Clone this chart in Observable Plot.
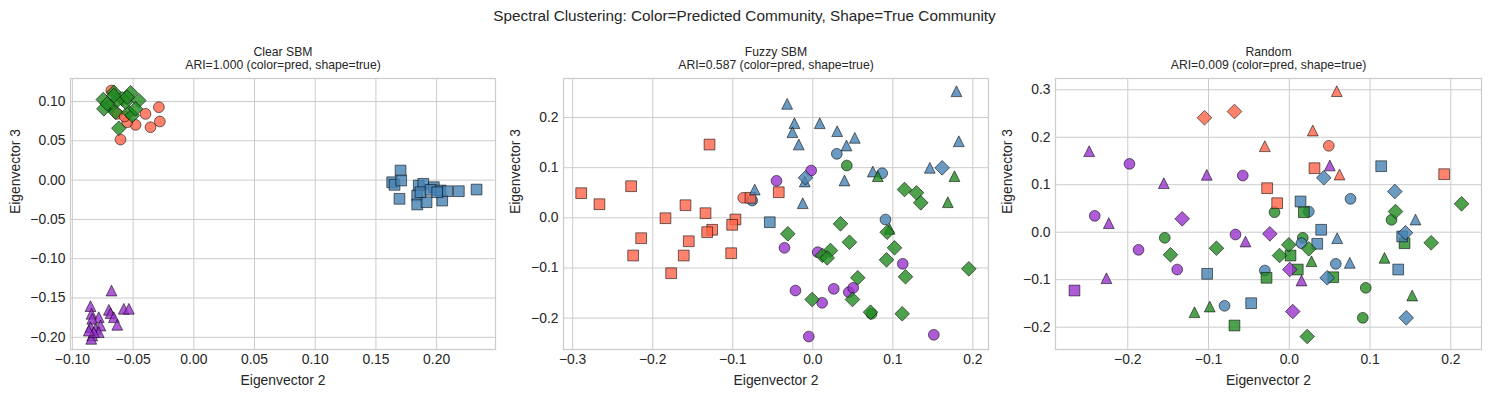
<!DOCTYPE html>
<html><head><meta charset="utf-8">
<script src="https://cdn.jsdelivr.net/npm/d3@7"></script>
<script src="https://cdn.jsdelivr.net/npm/@observablehq/plot@0.6"></script>
<style>
html,body{margin:0;padding:0;background:#fff;}
#fig{position:relative;width:1489px;height:397px;overflow:hidden;font-family:"Liberation Sans",Arial,sans-serif;color:#262626;background:#fff;}
#suptitle{position:absolute;left:0;top:8px;width:1489px;text-align:center;font-size:15.3px;line-height:1;}
.panel{position:absolute;top:0;}
</style></head><body>
<div id="fig"><div id="suptitle">Spectral Clustering: Color=Predicted Community, Shape=True Community</div></div>
<script>
// ---- categories ----
const panelTitles = ["Clear SBM", "Fuzzy SBM", "Random"];
const ariValues = ["1.000", "0.587", "0.009"];
const predColors = {R: "#FF6347", B: "#4682B4", G: "#228B22", P: "#9932CC"};
const trueShapes = ["o", "s", "^", "D"];

// ---- tick labels ----
const clearXTicks = [-0.10, -0.05, 0.00, 0.05, 0.10, 0.15, 0.20];
const clearYTicks = [-0.20, -0.15, -0.10, -0.05, 0.00, 0.05, 0.10];
const fuzzyXTicks = [-0.3, -0.2, -0.1, 0.0, 0.1, 0.2];
const fuzzyYTicks = [-0.2, -0.1, 0.0, 0.1, 0.2];
const randomXTicks = [-0.2, -0.1, 0.0, 0.1, 0.2];
const randomYTicks = [-0.2, -0.1, 0.0, 0.1, 0.2, 0.3];

// ---- points: [eigenvector2, eigenvector3, predicted, true] ----
const clearPts = [
  [-0.068,0.114,"R","o"],[-0.0288,0.0928,"R","o"],[-0.0398,0.0843,"R","o"],[-0.028,0.0746,"R","o"],
  [-0.0357,0.0673,"R","o"],[-0.048,0.0703,"R","o"],[-0.0549,0.0737,"R","o"],[-0.0604,0.0516,"R","o"],
  [-0.063,0.0843,"R","o"],[-0.057,0.081,"R","o"],
  [0.1703,0.0122,"B","s"],[0.1634,-0.0027,"B","s"],[0.1653,-0.006,"B","s"],[0.1708,-0.0005,"B","s"],
  [0.1694,-0.0238,"B","s"],[0.1853,-0.0069,"B","s"],[0.189,-0.0047,"B","s"],[0.184,-0.0196,"B","s"],
  [0.184,-0.031,"B","s"],[0.1917,-0.0281,"B","s"],[0.1977,-0.009,"B","s"],[0.2032,-0.0132,"B","s"],
  [0.2046,-0.026,"B","s"],[0.2087,-0.0141,"B","s"],[0.2183,-0.0141,"B","s"],[0.2329,-0.012,"B","s"],
  [0.1867,-0.0154,"B","s"],[0.195,-0.0123,"B","s"],[0.2005,-0.0154,"B","s"],
  [-0.0678,-0.1405,"P","^"],[-0.0851,-0.1603,"P","^"],[-0.0843,-0.1701,"P","^"],[-0.0783,-0.1744,"P","^"],
  [-0.07,-0.165,"P","^"],[-0.0686,-0.1693,"P","^"],[-0.0659,-0.1744,"P","^"],[-0.0577,-0.1637,"P","^"],
  [-0.0535,-0.1637,"P","^"],[-0.0631,-0.1841,"P","^"],[-0.0837,-0.1765,"P","^"],[-0.0769,-0.185,"P","^"],
  [-0.0851,-0.1871,"P","^"],[-0.081,-0.1892,"P","^"],[-0.0783,-0.1935,"P","^"],[-0.0837,-0.1977,"P","^"],
  [-0.0845,-0.2019,"P","^"],[-0.0824,-0.1935,"P","^"],[-0.0865,-0.1914,"P","^"],
  [-0.0746,0.1025,"G","D"],[-0.0659,0.1118,"G","D"],[-0.0521,0.1111,"G","D"],[-0.0453,0.1013,"G","D"],
  [-0.059,0.1034,"G","D"],[-0.0686,0.094,"G","D"],[-0.0741,0.0907,"G","D"],[-0.0645,0.0864,"G","D"],
  [-0.0535,0.0864,"G","D"],[-0.0507,0.0822,"G","D"],[-0.0618,0.066,"G","D"],[-0.0563,0.0991,"G","D"],
  [-0.048,0.0907,"G","D"],[-0.0631,0.1013,"G","D"],[-0.0713,0.0971,"G","D"],[-0.0659,0.1076,"G","D"],
  [-0.0549,0.1055,"G","D"]
];

const fuzzyPts = [
  [-0.0869,0.0399,"R","o"],
  [0.03,0.1276,"B","o"],[0.0867,0.0889,"B","o"],[0.0908,-0.0034,"B","o"],[-0.0757,0.0345,"B","o"],
  [0.0425,0.1043,"G","o"],[0.0733,-0.1914,"G","o"],
  [-0.0453,0.0738,"P","o"],[-0.002,0.0943,"P","o"],[-0.0354,-0.0598,"P","o"],[0.0062,-0.0686,"P","o"],
  [0.1124,-0.0917,"P","o"],[-0.0216,-0.145,"P","o"],[0.0262,-0.1416,"P","o"],[0.045,-0.1483,"P","o"],
  [0.0505,-0.1396,"P","o"],[0.0117,-0.1695,"P","o"],[-0.005,-0.2367,"P","o"],[0.1512,-0.2333,"P","o"],
  [-0.129,0.1461,"R","s"],[-0.2893,0.0491,"R","s"],[-0.2665,0.0271,"R","s"],[-0.2269,0.063,"R","s"],
  [-0.184,-0.0008,"R","s"],[-0.159,0.0251,"R","s"],[-0.134,0.0092,"R","s"],[-0.0966,-0.0034,"R","s"],
  [-0.1007,-0.014,"R","s"],[-0.1257,-0.0239,"R","s"],[-0.1319,-0.0287,"R","s"],[-0.2144,-0.0407,"R","s"],
  [-0.1549,-0.0467,"R","s"],[-0.2244,-0.0752,"R","s"],[-0.1612,-0.0752,"R","s"],[-0.1019,-0.0706,"R","s"],
  [-0.1769,-0.1105,"R","s"],[-0.0778,0.0399,"R","s"],[-0.0425,0.051,"R","s"],
  [-0.0537,-0.0088,"B","s"],
  [-0.032,0.2273,"B","^"],[0.1795,0.2524,"B","^"],[-0.0229,0.1886,"B","^"],[-0.0254,0.1707,"B","^"],
  [0.0087,0.1886,"B","^"],[0.0305,0.1727,"B","^"],[0.0525,0.1595,"B","^"],[0.0421,0.1442,"B","^"],
  [-0.0175,0.1462,"B","^"],[0.1824,0.1527,"B","^"],[0.075,0.0923,"B","^"],[0.0396,0.0744,"B","^"],
  [-0.0125,0.0291,"B","^"],[0.1462,0.0997,"B","^"],[-0.01,0.0724,"B","^"],[-0.0725,0.0564,"B","^"],
  [0.0812,0.083,"G","^"],[0.177,0.083,"G","^"],[0.1687,0.0311,"G","^"],[0.0958,-0.022,"G","^"],
  [0.1616,0.0997,"B","D"],[-0.0091,0.0798,"B","D"],
  [0.1146,0.0564,"G","D"],[0.1295,0.0498,"G","D"],[0.1349,0.0299,"G","D"],[0.0346,-0.012,"G","D"],
  [-0.0312,-0.0319,"G","D"],[0.0458,-0.0487,"G","D"],[0.0221,-0.0652,"G","D"],[0.012,-0.075,"G","D"],
  [0.018,-0.08,"G","D"],[0.0929,-0.0287,"G","D"],[0.1021,-0.0598,"G","D"],[0.0921,-0.0838,"G","D"],
  [0.1158,-0.1176,"G","D"],[0.1949,-0.1017,"G","D"],[0.0562,-0.1196,"G","D"],[-0.0008,-0.1629,"G","D"],
  [0.0496,-0.1629,"G","D"],[0.0721,-0.1882,"G","D"],[0.1117,-0.1914,"G","D"]
];

const randomPts = [
  [0.0489,0.182,"R","o"],
  [-0.1979,0.144,"P","o"],[-0.0576,0.1194,"P","o"],[-0.2409,0.0345,"P","o"],[-0.1867,-0.0371,"P","o"],
  [-0.0666,-0.0048,"P","o"],[-0.1388,-0.0786,"P","o"],
  [-0.1542,-0.0118,"G","o"],[-0.0183,0.0421,"G","o"],[0.1266,0.0261,"G","o"],[0.0167,-0.0118,"G","o"],
  [0.0947,-0.1171,"G","o"],[0.091,-0.1803,"G","o"],
  [-0.0802,-0.155,"B","o"],[-0.0303,-0.0807,"B","o"],[0.0758,0.0703,"B","o"],[0.0241,0.0436,"B","o"],
  [0.0151,-0.0231,"B","o"],[0.0576,-0.0666,"B","o"],
  [-0.0274,0.0927,"R","s"],[0.0312,0.1348,"R","s"],[0.1918,0.1222,"R","s"],[-0.015,0.0611,"R","s"],
  [-0.266,-0.1228,"P","s"],
  [-0.0679,-0.1965,"G","s"],[-0.0282,-0.096,"G","s"],[0.018,0.0421,"G","s"],[0.0015,-0.0491,"G","s"],
  [0.0105,-0.0786,"G","s"],[0.0544,-0.0948,"G","s"],[0.1427,-0.0232,"G","s"],
  [-0.1017,-0.0876,"B","s"],[-0.0472,-0.1495,"B","s"],[0.1138,0.139,"B","s"],[0.0139,0.0647,"B","s"],
  [0.0395,0.0051,"B","s"],[0.0346,-0.0244,"B","s"],[0.1398,-0.009,"B","s"],[0.1349,-0.0786,"B","s"],
  [-0.0303,0.1811,"R","^"],[0.0588,0.297,"R","^"],[0.0291,0.2142,"R","^"],[0.0622,0.1215,"R","^"],
  [-0.2478,0.1706,"P","^"],[-0.1554,0.1032,"P","^"],[-0.1022,0.1209,"P","^"],[-0.2235,0.019,"P","^"],
  [-0.0542,-0.0196,"P","^"],[-0.2264,-0.0969,"P","^"],[0.0502,0.1405,"P","^"],[0.0151,-0.1017,"P","^"],
  [-0.1174,-0.1685,"G","^"],[-0.0985,-0.1565,"G","^"],[0.0275,-0.0611,"G","^"],[0.1522,-0.1333,"G","^"],
  [0.1179,-0.054,"G","^"],
  [0.1563,0.0267,"B","^"],[0.0593,-0.0126,"B","^"],[0.0749,-0.0645,"B","^"],
  [-0.105,0.241,"R","D"],[-0.0679,0.2542,"R","D"],
  [-0.1326,0.0282,"P","D"],[-0.0241,-0.0034,"P","D"],[0.0006,-0.0786,"P","D"],[0.0043,-0.167,"P","D"],
  [-0.1471,-0.0476,"G","D"],[-0.0902,-0.0337,"G","D"],[0.2133,0.0598,"G","D"],[0.1315,0.0436,"G","D"],
  [-0.0006,-0.0265,"G","D"],[0.0241,-0.035,"G","D"],[-0.0121,-0.0491,"G","D"],[0.1757,-0.0223,"G","D"],
  [0.0222,-0.2197,"G","D"],
  [0.0427,0.1146,"B","D"],[0.1307,0.0857,"B","D"],[0.0469,-0.096,"B","D"],[0.1448,-0.1803,"B","D"],
  [0.1439,-0.0013,"B","D"]
];

// ---- matplotlib-like marker shapes (size = markersize^2) ----
const shapeSymbols = {
  "o": {draw(c, s) { const m = Math.sqrt(s) / 2; c.moveTo(m, 0); c.arc(0, 0, m, 0, 2 * Math.PI); c.closePath(); }},
  "s": {draw(c, s) { const m = Math.sqrt(s) / 2; c.rect(-m, -m, 2 * m, 2 * m); }},
  "^": {draw(c, s) { const m = Math.sqrt(s) / 2; c.moveTo(0, -m); c.lineTo(m, m); c.lineTo(-m, m); c.closePath(); }},
  "D": {draw(c, s) { const h = Math.sqrt(s) * 0.68; c.moveTo(0, -h); c.lineTo(h, 0); c.lineTo(0, h); c.lineTo(-h, 0); c.closePath(); }}
};
const markerPx = 10.76;
const markerR = markerPx / Math.sqrt(Math.PI);

const FONT = '"Liberation Sans", Arial, sans-serif';
const GRID = "#cccccc";

function drawPanel(i, rows, cfg) {
  const data = rows.map(([x, y, p, t]) => ({x, y, p, t}));
  const dots = trueShapes.map(s => Plot.dot(data.filter(d => d.t === s), {
    x: "x", y: "y", symbol: shapeSymbols[s], r: markerR,
    fill: d => predColors[d.p], fillOpacity: 0.8,
    stroke: "#000", strokeOpacity: 0.8, strokeWidth: 0.7
  }));
  const svg = Plot.plot({
    width: cfg.width, height: 397,
    marginLeft: cfg.ml, marginRight: cfg.width - cfg.ml - cfg.pw, marginTop: 78, marginBottom: 48,
    x: {domain: cfg.xd}, y: {domain: cfg.yd},
    style: {fontFamily: FONT, fontSize: "13.9px", color: "#262626", background: "transparent", overflow: "visible"},
    marks: [
      Plot.gridX({ticks: cfg.xt, stroke: GRID, strokeOpacity: 1, strokeWidth: 1}),
      Plot.gridY({ticks: cfg.yt, stroke: GRID, strokeOpacity: 1, strokeWidth: 1}),
      ...dots,
      Plot.frame({stroke: GRID, strokeWidth: 1.25}),
      Plot.axisX({ticks: cfg.xt, tickFormat: cfg.fmt, tickSize: 0, tickPadding: 5, label: null, fontSize: 13.9}),
      Plot.axisY({ticks: cfg.yt, tickFormat: cfg.fmt, tickSize: 0, tickPadding: 5, label: null, fontSize: 13.9}),
      Plot.text([panelTitles[i]], {frameAnchor: "top", dy: -26, fontSize: 12.2, lineAnchor: "middle"}),
      Plot.text([`ARI=${ariValues[i]} (color=pred, shape=true)`], {frameAnchor: "top", dy: -13, fontSize: 12.2, lineAnchor: "middle"}),
      Plot.text(["Eigenvector 2"], {frameAnchor: "bottom", dy: 31, fontSize: 13.9, lineAnchor: "middle"}),
      Plot.text(["Eigenvector 3"], {frameAnchor: "left", dx: cfg.ylx, rotate: -90, fontSize: 13.9, lineAnchor: "middle"})
    ]
  });
  svg.classList.add("panel");
  svg.style.left = cfg.left + "px";
  document.getElementById("fig").appendChild(svg);
}

drawPanel(0, clearPts, {left: 0, width: 500, ml: 70, pw: 425, xd: [-0.1016, 0.2485], yd: [-0.2155, 0.1293],
  xt: clearXTicks, yt: clearYTicks, fmt: d3.format(".2f"), ylx: -55});
drawPanel(1, fuzzyPts, {left: 500, width: 495, ml: 63, pw: 425, xd: [-0.3114, 0.2195], yd: [-0.2626, 0.2778],
  xt: fuzzyXTicks, yt: fuzzyYTicks, fmt: d3.format(".1f"), ylx: -48});
drawPanel(2, randomPts, {left: 995, width: 494, ml: 60, pw: 426, xd: [-0.2895, 0.238], yd: [-0.247, 0.3237],
  xt: randomXTicks, yt: randomYTicks, fmt: d3.format(".1f"), ylx: -48});
</script>
</body></html>
